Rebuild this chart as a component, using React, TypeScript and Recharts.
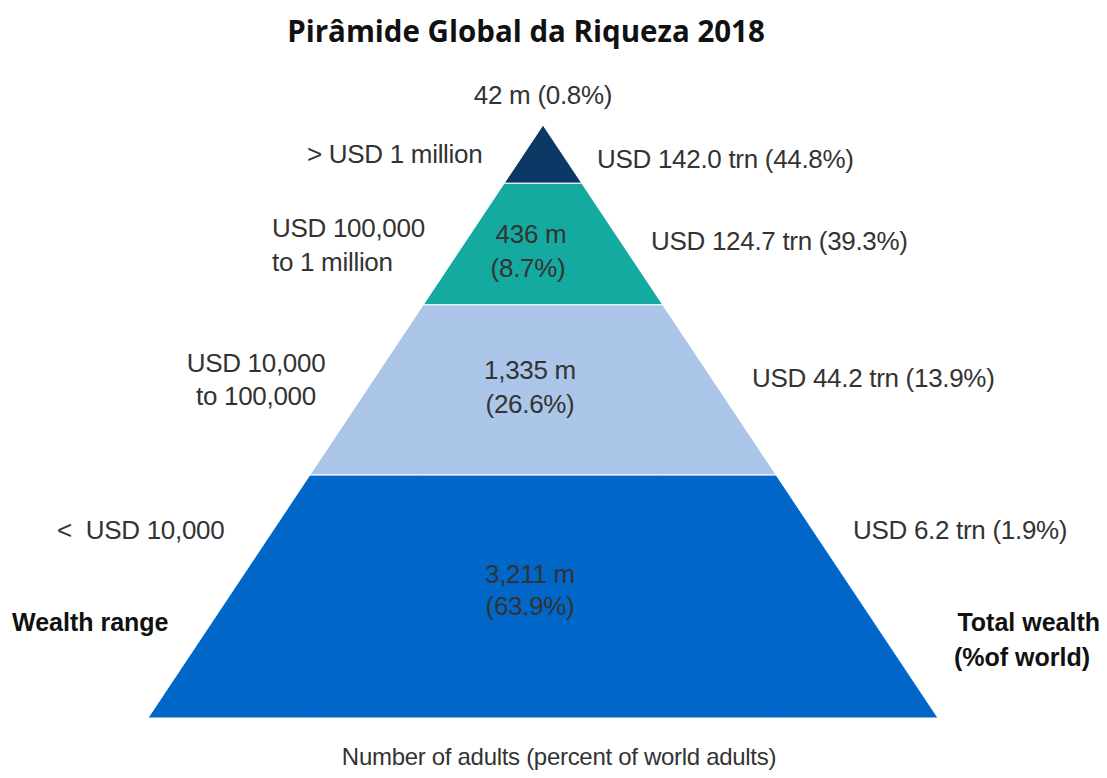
import { Area, ComposedChart, XAxis, YAxis } from "recharts";
import type { CSSProperties } from "react";

// faixas de riqueza, de baixo (base) para o topo
const BANDS = ["< USD 10,000", "USD 10,000 to 100,000", "USD 100,000 to 1 million", "> USD 1 million"];
const COLORS = ["#0067c8", "#abc6e8", "#15aa9f", "#0c3866"];
// limites das faixas em fração da altura da pirâmide (0 = base, 1 = topo)
const EDGES = [0, 0.41, 0.697, 0.902, 1];
const ADULTS = ["3,211 m", "1,335 m", "436 m", "42 m"];
const ADULTS_PCT = ["(63.9%)", "(26.6%)", "(8.7%)", "(0.8%)"];
const WEALTH = ["USD 6.2 trn (1.9%)", "USD 44.2 trn (13.9%)", "USD 124.7 trn (39.3%)", "USD 142.0 trn (44.8%)"];

// trapézio de cada faixa como área com intervalo [base, topo]
function bandData(i: number) {
  const lo = EDGES[i];
  const hi = EDGES[i + 1];
  const pts = [
    { x: -(1 - lo), v: [lo, lo] },
    { x: -(1 - hi), v: [lo, hi] },
    { x: 1 - hi, v: [lo, hi] },
    { x: 1 - lo, v: [lo, lo] },
  ];
  return hi >= 1 ? [pts[0], { x: 0, v: [lo, hi] }, pts[3]] : pts;
}

const FONT = '"Liberation Sans", Arial, sans-serif';

function T({ x, y, children, align = "left", bold = false, size = 26 }: any) {
  const style: CSSProperties = {
    position: "absolute",
    left: x,
    top: y,
    transform: `translate(${align === "center" ? "-50%" : align === "right" ? "-100%" : "0"}, -50%)`,
    fontFamily: FONT,
    fontSize: size,
    fontWeight: bold ? 700 : 400,
    color: bold ? "#111" : "#333",
    whiteSpace: "pre",
    lineHeight: 1,
    letterSpacing: bold ? 0 : -0.3,
    textAlign: align,
  };
  return <div style={style}>{children}</div>;
}

export default function App() {
  return (
    <div style={{ position: "absolute", left: 0, top: 0, width: 1107, height: 778, background: "#fff" }}>
      <ComposedChart
        width={1107}
        height={778}
        margin={{ top: 125, right: 169, bottom: 60, left: 148 }}
      >
        <XAxis type="number" dataKey="x" domain={[-1, 1]} hide allowDuplicatedCategory={false} />
        <YAxis type="number" domain={[0, 1]} hide />
        {BANDS.map((b, i) => (
          <Area
            key={b}
            name={b}
            data={bandData(i)}
            dataKey="v"
            type="linear"
            fill={COLORS[i]}
            fillOpacity={1}
            stroke="#fff"
            strokeWidth={1}
            isAnimationActive={false}
            dot={false}
            activeDot={false}
          />
        ))}
      </ComposedChart>

      <div
        style={{
          position: "absolute",
          left: 526,
          top: 30,
          transform: "translate(-50%, -50%)",
          fontFamily: '"Open Sans", sans-serif',
          fontWeight: 700,
          fontSize: 29.5,
          color: "#111",
          whiteSpace: "nowrap",
        }}
      >
        Pirâmide Global da Riqueza 2018
      </div>

      <T x={543} y={95} align="center">{ADULTS[3]} {ADULTS_PCT[3]}</T>
      <T x={307} y={154}>{BANDS[3]}</T>
      <T x={597} y={159}>{WEALTH[3]}</T>

      <T x={272} y={228}>USD 100,000</T>
      <T x={272} y={262}>to 1 million</T>
      <T x={531} y={234} align="center">{ADULTS[2]}</T>
      <T x={528} y={268} align="center">{ADULTS_PCT[2]}</T>
      <T x={651} y={241}>{WEALTH[2]}</T>

      <T x={256} y={363} align="center">USD 10,000</T>
      <T x={256} y={396} align="center">to 100,000</T>
      <T x={530} y={370} align="center">{ADULTS[1]}</T>
      <T x={530} y={404} align="center">{ADULTS_PCT[1]}</T>
      <T x={752} y={378}>{WEALTH[1]}</T>

      <T x={57} y={530}>{"<  USD 10,000"}</T>
      <T x={530} y={574} align="center">{ADULTS[0]}</T>
      <T x={530} y={606} align="center">{ADULTS_PCT[0]}</T>
      <T x={853} y={530}>{WEALTH[0]}</T>

      <T x={12} y={622} bold size={25}>Wealth range</T>
      <T x={1100} y={622} align="right" bold size={25}>Total wealth</T>
      <T x={954} y={657} bold size={25}>(%of world)</T>

      <T x={559} y={757} align="center" size={24}>Number of adults (percent of world adults)</T>
    </div>
  );
}
